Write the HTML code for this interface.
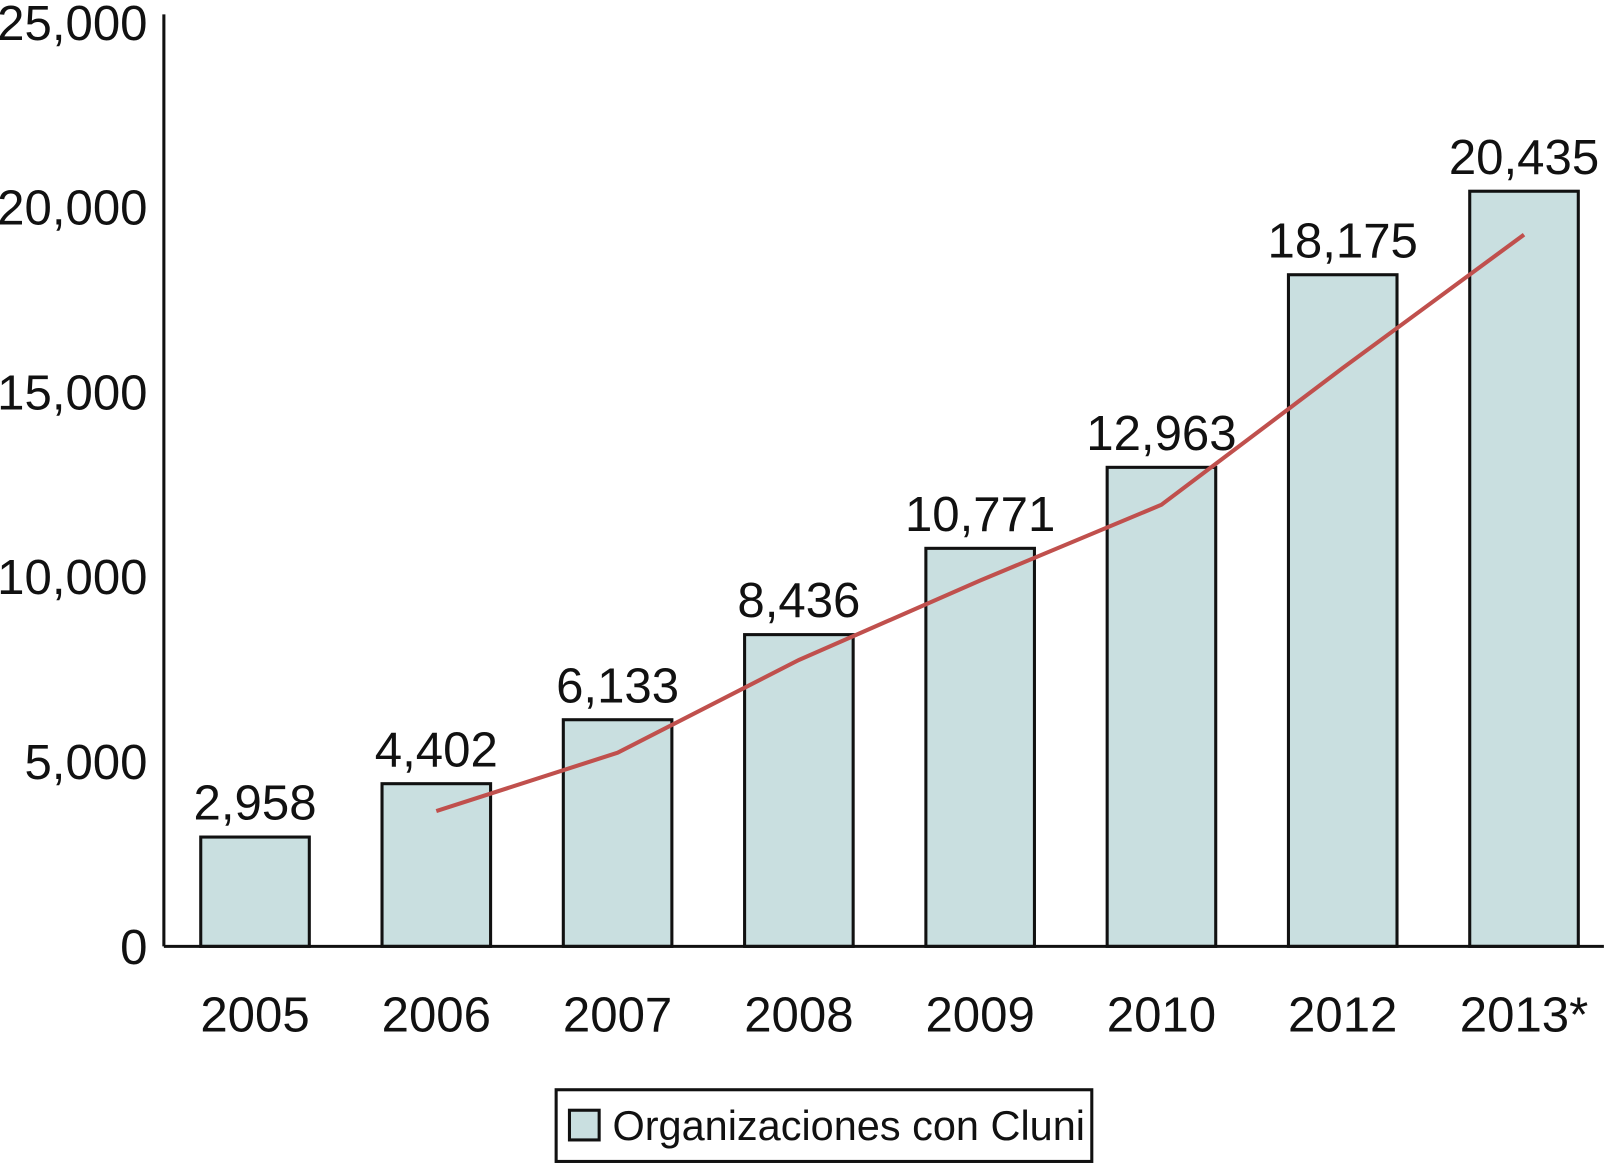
<!DOCTYPE html>
<html><head><meta charset="utf-8"><style>
body{margin:0;background:#fff;}
svg{display:block;font-family:"Liberation Sans",Arial,sans-serif;}
</style></head><body>
<svg id="chart" width="1606" height="1164"><g id="root" transform="scale(1.0242)"></g></svg>
<script>
const categories=["2005","2006","2007","2008","2009","2010","2012","2013*"];
const barValues=[2958,4402,6133,8436,10771,12963,18175,20435];
const barLabels=["2,958","4,402","6,133","8,436","10,771","12,963","18,175","20,435"];
const trendValues=[null,3660,5240,7750,9900,11950,15650,19260];
const yTicks=[0,5000,10000,15000,20000,25000];
const yTickLabels=["0","5,000","10,000","15,000","20,000","25,000"];

const NS="http://www.w3.org/2000/svg";
const svg=document.getElementById('root');
const x0=160,yBase=924,yTop=22,yMax=25000;
const step=177,firstCenter=249,barW=106;
function yScale(v){return yBase-(v/yMax)*(yBase-yTop);}
function xCenter(i){return firstCenter+i*step;}
function mk(tag,attrs,text){const e=document.createElementNS(NS,tag);for(const k in attrs)e.setAttribute(k,attrs[k]);if(text!==undefined)e.textContent=text;svg.appendChild(e);return e;}

yTicks.forEach((t,i)=>{
  const e=mk('text',{x:144,y:yScale(t)+17,'text-anchor':'end','font-size':48,fill:'#111'},yTickLabels[i]);
  
  
});
barValues.forEach((v,i)=>{
  const r=mk('rect',{x:xCenter(i)-barW/2,y:yScale(v),width:barW,height:yBase-yScale(v),fill:'#c9dfe0',stroke:'#111','stroke-width':3});
  
  
  const l=mk('text',{x:xCenter(i),y:yScale(v)-17,'text-anchor':'middle','font-size':48,fill:'#111'},barLabels[i]);
  
  
  const c=mk('text',{x:xCenter(i),y:1007,'text-anchor':'middle','font-size':48,fill:'#111'},categories[i]);
  
  
});
const pts=[];
trendValues.forEach((v,i)=>{if(v!==null)pts.push(xCenter(i)+','+yScale(v));});
const pl=mk('polyline',{points:pts.join(' '),fill:'none',stroke:'#c0504d','stroke-width':4});


const ya=mk('line',{x1:x0,y1:yTop-8,x2:x0,y2:yBase,stroke:'#111','stroke-width':3});


const xa=mk('line',{x1:x0,y1:yBase,x2:1566,y2:yBase,stroke:'#111','stroke-width':3});


const lb=mk('rect',{x:543,y:1064,width:523,height:70,fill:'#fff',stroke:'#111','stroke-width':3});


const ls=mk('rect',{x:556,y:1084,width:29,height:29,fill:'#c9dfe0',stroke:'#111','stroke-width':3});


const lt=mk('text',{x:598,y:1113,'font-size':40.5,fill:'#111'},'Organizaciones con Cluni');


</script>
</body></html>
